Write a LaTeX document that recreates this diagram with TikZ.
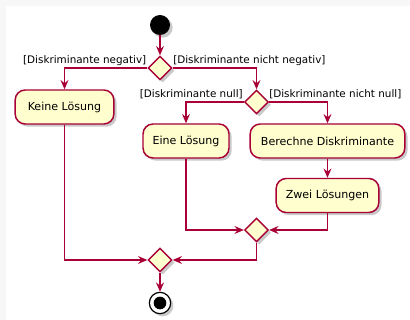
\documentclass[tikz,border=0pt]{standalone}
\usepackage{fontspec}
\setmainfont{DejaVu Sans}
\usetikzlibrary{shapes.geometric,arrows.meta,shadows}
\definecolor{pcrim}{HTML}{A80036}
\definecolor{pfill}{HTML}{FEFECE}
\definecolor{pedge}{HTML}{F7F7F7}
\tikzset{
  shade/.style={drop shadow={shadow xshift=2pt,shadow yshift=-2pt,opacity=0.35,fill=black!60}},
  act/.style={draw=pcrim,fill=pfill,rounded corners=7.5pt,line width=1.1pt,
    minimum height=25.5pt,inner sep=0pt,font=\fontsize{8.3pt}{10pt}\selectfont,shade},
  branch/.style={diamond,draw=pcrim,fill=pfill,line width=1.1pt,minimum size=18pt,
    inner sep=0pt,aspect=1,shade},
  flow/.style={draw=pcrim,line width=0.8pt,-{Stealth[length=7pt,width=6pt,inset=2.5pt]}},
  guard/.style={inner sep=0pt,font=\fontsize{7.8pt}{9pt}\selectfont},
}
\begin{document}
\begin{tikzpicture}[x=0.75pt,y=-0.75pt]
  % canvas
  \fill[pedge] (0,0) rectangle (410,320);
  \fill[white] (6,6) rectangle (410,320);
  \useasboundingbox (0,0) rectangle (410,320);

  % nodes
  \node[circle,fill=black,minimum size=15pt,inner sep=0pt,shade] (start) at (160,25) {};
  \node[branch] (d1) at (160,68) {};
  \node[act,minimum width=74pt] (keine) at (64.5,107) {Keine Lösung};
  \node[branch] (d2) at (256.5,102) {};
  \node[act,minimum width=64.5pt] (eine) at (186,141) {Eine Lösung};
  \node[act,minimum width=116pt] (berechne) at (327.5,141) {Berechne Diskriminante};
  \node[act,minimum width=77pt] (zwei) at (327.5,195.5) {Zwei Lösungen};
  \node[branch] (d3) at (256.5,230) {};
  \node[branch] (d4) at (160,260) {};
  \node[circle,draw=black,line width=0.9pt,fill=white,minimum size=16pt,inner sep=0pt,shade] (stop) at (160,303) {};
  \node[circle,fill=black,minimum size=9.5pt,inner sep=0pt] (stopdot) at (stop.center) {};

  % guards
  \node[guard,anchor=base east] (g1) at (146.5,64) {[Diskriminante negativ]};
  \node[guard,anchor=base west] (g2) at (173,64) {[Diskriminante nicht negativ]};
  \node[guard,anchor=base east] (g3) at (243,98) {[Diskriminante null]};
  \node[guard,anchor=base west] (g4) at (269,98) {[Diskriminante nicht null]};

  % control flow
  \draw[flow] (start) -- (d1.north);
  \draw[flow] (d1.west) -| (keine.north);
  \draw[flow] (d1.east) -| (d2.north);
  \draw[flow] (d2.west) -| (eine.north);
  \draw[flow] (d2.east) -| (berechne.north);
  \draw[flow] (berechne) -- (zwei);
  \draw[flow] (eine.south) |- (d3.west);
  \draw[flow] (zwei.south) |- (d3.east);
  \draw[flow] (d3.south) |- (d4.east);
  \draw[flow] (keine.south) |- (d4.west);
  \draw[flow] (d4.south) -- (stop);
\end{tikzpicture}
\end{document}
